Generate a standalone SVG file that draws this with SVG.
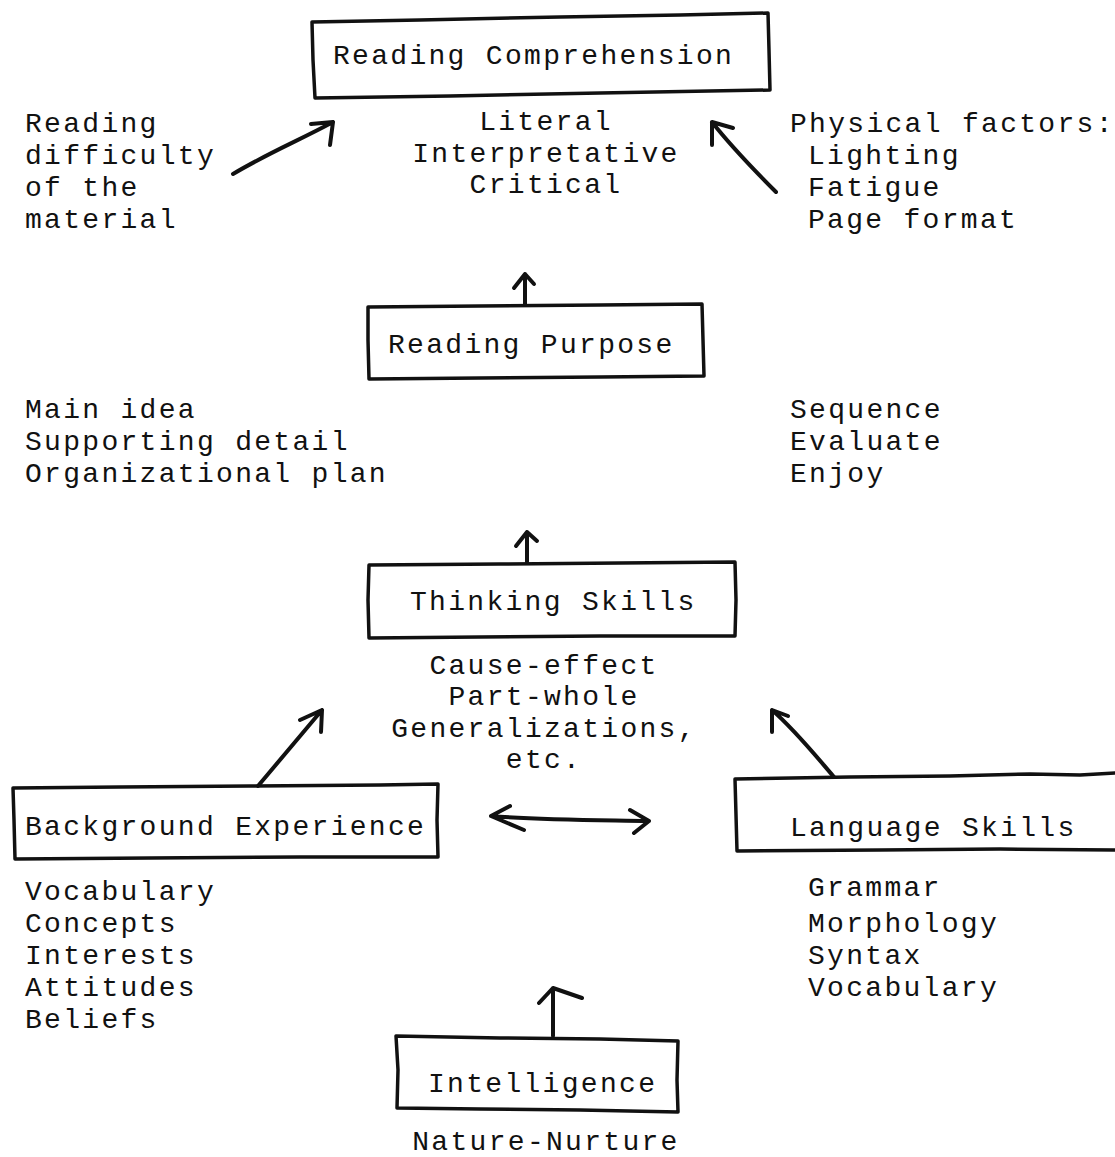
<svg xmlns="http://www.w3.org/2000/svg" width="1115" height="1157" viewBox="0 0 1115 1157">
<style>
text{font-family:"Liberation Mono","DejaVu Sans Mono",monospace;font-size:28px;letter-spacing:2.3px;fill:#111;}
.box{fill:none;stroke:#111;stroke-width:3.5;stroke-linejoin:round;stroke-linecap:round;}
.ar{fill:none;stroke:#111;stroke-width:4;stroke-linecap:round;stroke-linejoin:round;}
.c{text-anchor:middle;}
</style>
<rect width="1115" height="1157" fill="#fff"/>
<g id="node-reading-comprehension">
<path class="box" d="M312,22 L420,20 L560,17 L680,15 L768,13 L769,50 L770,90 L600,93 L450,96 L315,98 L313,60 Z"/>
<text x="333" y="64">Reading Comprehension</text>
</g>
<g id="node-comprehension-levels">
<text class="c" x="546" y="130">Literal</text>
<text class="c" x="546" y="162">Interpretative</text>
<text class="c" x="546" y="193">Critical</text>
</g>
<g id="node-reading-difficulty">
<text x="25" y="132">Reading</text>
<text x="25" y="164">difficulty</text>
<text x="25" y="196">of the</text>
<text x="25" y="228">material</text>
</g>
<g id="node-physical-factors">
<text x="790" y="132">Physical factors:</text>
<text x="808" y="164">Lighting</text>
<text x="808" y="196">Fatigue</text>
<text x="808" y="228">Page format</text>
</g>
<g id="node-reading-purpose">
<path class="box" d="M368,307 L480,306 L600,305 L702,304 L703,340 L704,376 L600,377 L480,378 L369,379 L368,340 Z"/>
<text x="388" y="353">Reading Purpose</text>
</g>
<g id="node-purpose-left">
<text x="25" y="418">Main idea</text>
<text x="25" y="450">Supporting detail</text>
<text x="25" y="482">Organizational plan</text>
</g>
<g id="node-purpose-right">
<text x="790" y="418">Sequence</text>
<text x="790" y="450">Evaluate</text>
<text x="790" y="482">Enjoy</text>
</g>
<g id="node-thinking-skills">
<path class="box" d="M369,565 L500,564 L620,563 L735,562 L736,600 L735,636 L600,636 L480,637 L369,638 L368,600 Z"/>
<text x="410" y="610">Thinking Skills</text>
</g>
<g id="node-thinking-items">
<text class="c" x="544" y="674">Cause-effect</text>
<text class="c" x="544" y="705">Part-whole</text>
<text class="c" x="544" y="737">Generalizations,</text>
<text class="c" x="544" y="768">etc.</text>
</g>
<g id="node-background-experience">
<path class="box" d="M13,788 L120,787 L250,786 L380,785 L438,784 L437,820 L438,857 L300,857 L150,858 L15,859 L14,820 Z"/>
<text x="25" y="835">Background Experience</text>
</g>
<g id="node-background-items">
<text x="25" y="900">Vocabulary</text>
<text x="25" y="932">Concepts</text>
<text x="25" y="964">Interests</text>
<text x="25" y="996">Attitudes</text>
<text x="25" y="1028">Beliefs</text>
</g>
<g id="node-language-skills">
<path class="box" d="M1116,773 L1080,775 L1030,774 L950,776 L850,777 L735,779 L736,815 L737,851 L880,850 L1000,849 L1116,850"/>
<text x="790" y="836">Language Skills</text>
</g>
<g id="node-language-items">
<text x="808" y="896">Grammar</text>
<text x="808" y="932">Morphology</text>
<text x="808" y="964">Syntax</text>
<text x="808" y="996">Vocabulary</text>
</g>
<g id="node-intelligence">
<path class="box" d="M396,1036 L500,1038 L600,1039 L678,1041 L677,1080 L678,1112 L580,1110 L480,1109 L397,1108 L398,1070 Z"/>
<text x="428" y="1092">Intelligence</text>
</g>
<g id="node-nature-nurture">
<text class="c" x="546" y="1150">Nature-Nurture</text>
</g>
<g id="connectors">
<path class="ar" d="M233,174 C270,152 300,140 333,122 M311,124 L333,122 L330,145"/>
<path class="ar" d="M776,192 C752,168 730,145 712,122 M712,145 L712,122 L733,128"/>
<path class="ar" d="M525,304 L525,274 M514,288 L525,274 L534,284"/>
<path class="ar" d="M527,562 L527,532 M516,546 L527,532 L537,541"/>
<path class="ar" d="M258,786 L322,710 M300,720 L322,710 L321,732"/>
<path class="ar" d="M834,777 C815,755 795,730 772,710 M772,732 L772,710 L788,716"/>
<path class="ar" d="M491,816 C540,820 600,820 649,821 M510,806 L491,816 L524,830 M630,810 L649,821 L634,833"/>
<path class="ar" d="M553,1036 L553,988 M539,1003 L553,988 L582,998"/>
</g>
</svg>
